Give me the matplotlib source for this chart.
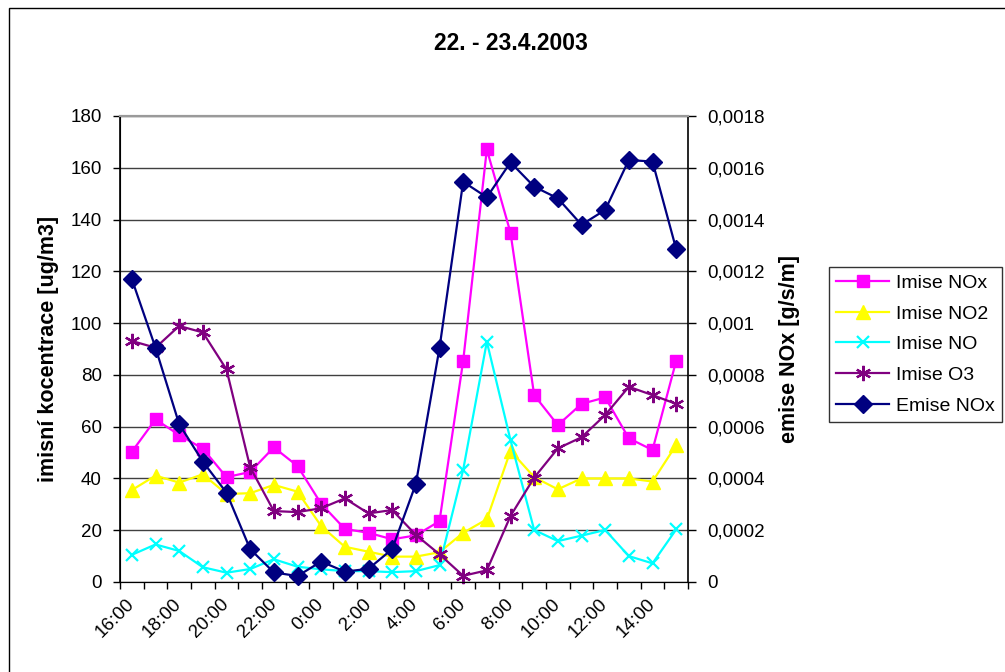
import numpy as np
import matplotlib
matplotlib.use("Agg")
import matplotlib.pyplot as plt
from matplotlib.lines import Line2D
from matplotlib.patches import Rectangle
from matplotlib.ticker import FuncFormatter, FixedLocator

plt.rcParams['font.family'] = ['Liberation Sans', 'DejaVu Sans']

# Hourly measurements, 22.4.2003 16:00 to 23.4.2003 15:00
hours = ["16:00", "17:00", "18:00", "19:00", "20:00", "21:00", "22:00", "23:00",
         "0:00", "1:00", "2:00", "3:00", "4:00", "5:00", "6:00", "7:00",
         "8:00", "9:00", "10:00", "11:00", "12:00", "13:00", "14:00", "15:00"]

imise_nox = [50.3, 62.8, 56.8, 51.5, 40.5, 42.5, 52.0, 44.8, 30.2, 20.5, 19.0, 16.5,
             18.0, 23.5, 85.4, 167.1, 134.9, 72.2, 60.6, 68.8, 71.3, 55.5, 51.0, 85.4]
imise_no2 = [35.5, 41.1, 38.4, 41.6, 34.0, 34.3, 37.5, 34.9, 21.6, 13.6, 11.7, 9.8,
             9.8, 11.5, 19.0, 24.2, 50.7, 40.5, 35.8, 40.0, 40.0, 40.0, 38.8, 52.9]
imise_no = [10.5, 14.5, 12.0, 5.7, 3.6, 5.0, 8.8, 5.9, 4.9, 4.2, 4.2, 3.8,
            4.2, 6.5, 43.3, 92.8, 54.8, 20.1, 15.8, 17.9, 20.1, 10.0, 7.2, 20.3]
imise_o3 = [93.1, 90.5, 98.9, 96.4, 82.1, 44.3, 27.4, 27.0, 28.5, 32.3, 26.5, 27.8,
            18.2, 10.7, 2.4, 4.5, 25.5, 40.3, 51.6, 55.9, 64.5, 75.4, 72.2, 68.8]
emise_nox = [0.00117, 0.000905, 0.00061, 0.000465, 0.000345, 0.000127, 0.000037, 0.000023,
             0.000079, 0.00004, 0.000051, 0.000127, 0.000379, 0.000904, 0.001546, 0.001486,
             0.001621, 0.001527, 0.001482, 0.00138, 0.001437, 0.00163, 0.001624, 0.001286]

left_ticks = list(range(0, 181, 20))
right_ticks = [i * 0.0002 for i in range(10)]

W, H = 1005, 672
fig = plt.figure(figsize=(W / 100, H / 100), dpi=100)
fig.patch.set_facecolor('white')

# Chart border
fig.add_artist(Rectangle((9 / W, -0.1), 1.2, 1 - 8 / H + 0.1, transform=fig.transFigure,
                         fill=False, edgecolor='black', lw=1.0))

ax = fig.add_axes([120 / W, 1 - 582 / H, (688 - 120) / W, (582 - 116) / H])
ax2 = ax.twinx()

x = np.arange(len(hours))
lw = 1.6
ax.plot(x, imise_nox, color='#FF00FF', lw=lw, marker='s', ms=9, mec='#FF00FF', mfc='#FF00FF',
        label='Imise NOx', clip_on=False, zorder=3)
ax.plot(x, imise_no2, color='#FFFF00', lw=lw, marker='^', ms=10, mec='#FFFF00', mfc='#FFFF00',
        label='Imise NO2', clip_on=False, zorder=4)
ax.plot(x, imise_no, color='#00FFFF', lw=lw, marker='x', ms=9, mew=1.6, mec='#00FFFF',
        label='Imise NO', clip_on=False, zorder=5)
ax.plot(x, imise_o3, color='#800080', lw=lw, marker=(6, 2, 0), ms=11, mew=1.6, mec='#800080',
        label='Imise O3', clip_on=False, zorder=6)
ax2.plot(x, emise_nox, color='#000080', lw=lw, marker='D', ms=9, mec='#000080', mfc='#000080',
         label='Emise NOx', clip_on=False, zorder=7)

ax.set_xlim(-0.5, len(hours) - 0.5)
ax.set_ylim(0, 180)
ax2.set_ylim(0, 0.0018)

ax.set_yticks(left_ticks)
ax2.set_yticks(right_ticks)
ax2.yaxis.set_major_formatter(FuncFormatter(
    lambda v, p: ("%.4f" % v).rstrip('0').rstrip('.').replace('.', ',')))

# category boundaries as tick marks, every second hour labelled
ax.xaxis.set_major_locator(FixedLocator(np.arange(-0.5, len(hours), 1.0)))
ax.set_xticklabels([])
ax.set_xticks(x[::2], minor=True)
ax.set_xticklabels(hours[::2], minor=True, rotation=45, ha='right', va='center',
                   rotation_mode='anchor')

fs = 13.5
ax.tick_params(axis='x', which='major', length=5, width=1, direction='out', color='black')
ax.tick_params(axis='x', which='minor', length=0, pad=14, labelsize=fs)
ax.tick_params(axis='y', length=5, width=1, pad=8, labelsize=fs)
ax2.tick_params(axis='y', length=6, width=1, pad=8, labelsize=fs)

ax.grid(axis='y', color='#404040', lw=1.0)
ax.set_axisbelow(True)
for a in (ax, ax2):
    a.spines['top'].set_color('#9a9a9a')
    a.spines['top'].set_linewidth(1.5)
    a.spines['left'].set_color('black')
    a.spines['bottom'].set_color('black')
ax.spines['right'].set_visible(False)
ax2.spines['right'].set_color('black')
ax2.spines['right'].set_linewidth(1.2)
ax.spines['left'].set_linewidth(1.2)

lab_fs = 15.5
ax.set_ylabel('imisní kocentrace [ug/m3]', fontsize=lab_fs, fontweight='bold', labelpad=8)
ax2.set_ylabel('emise NOx [g/s/m]', fontsize=lab_fs, fontweight='bold', labelpad=10)

fig.text(511 / W, 1 - 43 / H, '22. - 23.4.2003', ha='center', va='center',
         fontsize=16.5, fontweight='bold')

handles = [
    Line2D([], [], color='#FF00FF', lw=lw, marker='s', ms=9, mfc='#FF00FF', mec='#FF00FF'),
    Line2D([], [], color='#FFFF00', lw=lw, marker='^', ms=10, mfc='#FFFF00', mec='#FFFF00'),
    Line2D([], [], color='#00FFFF', lw=lw, marker='x', ms=9, mew=1.6, mec='#00FFFF'),
    Line2D([], [], color='#800080', lw=lw, marker=(6, 2, 0), ms=11, mew=1.6, mec='#800080'),
    Line2D([], [], color='#000080', lw=lw, marker='D', ms=9, mfc='#000080', mec='#000080'),
]
labels = ['Imise NOx', 'Imise NO2', 'Imise NO', 'Imise O3', 'Emise NOx']
leg_fs = 14.0
leg = fig.legend(handles, labels, loc='upper left', bbox_to_anchor=(829 / W, 1 - 267 / H),
                 frameon=True, fancybox=False, shadow=False, fontsize=leg_fs,
                 handlelength=2.7, handletextpad=0.35, labelspacing=0.67,
                 borderpad=0.38, borderaxespad=0)
leg.get_frame().set_edgecolor('black')
leg.get_frame().set_linewidth(1.0)

fig.savefig('out.png', dpi=100, facecolor='white')
